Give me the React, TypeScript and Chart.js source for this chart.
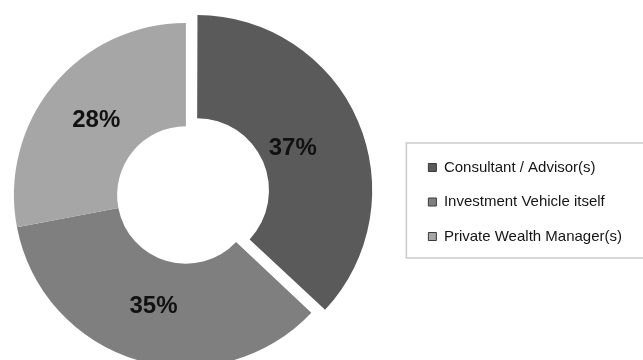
import React, { useEffect, useRef } from "react";
import { Chart, registerables } from "chart.js";

Chart.register(...registerables);

const categories = ["Consultant / Advisor(s)", "Investment Vehicle itself", "Private Wealth Manager(s)"];
const shares = [37, 35, 28];

const FONT = "'Liberation Sans', Arial, Helvetica, sans-serif";

const valueLabels = {
  id: "valueLabels",
  afterDatasetsDraw(chart: any) {
    const ctx = chart.ctx;
    const meta = chart.getDatasetMeta(0);
    ctx.save();
    ctx.font = `bold 24px ${FONT}`;
    ctx.fillStyle = "#111111";
    ctx.textAlign = "center";
    ctx.textBaseline = "middle";
    meta.data.forEach((arc: any, i: number) => {
      const p = arc.getProps(["x", "y", "startAngle", "endAngle", "innerRadius", "outerRadius"], true);
      const mid = (p.startAngle + p.endAngle) / 2;
      const r = (p.innerRadius + p.outerRadius) / 2 - 4;
      ctx.fillText(`${shares[i]}%`, p.x + Math.cos(mid) * r, p.y + Math.sin(mid) * r);
    });
    ctx.restore();
  },
};

const legendFrame = {
  id: "legendFrame",
  afterDraw(chart: any) {
    const lg = chart.legend;
    if (!lg || !lg.legendHitBoxes || !lg.legendHitBoxes.length) return;
    const hb = lg.legendHitBoxes;
    const first = hb[0];
    const last = hb[hb.length - 1];
    const left = first.left - 22;
    const top = first.top - 17;
    const bottom = last.top + last.height + 14;
    const ctx = chart.ctx;
    ctx.save();
    ctx.strokeStyle = "#cbcbcb";
    ctx.lineWidth = 1.5;
    ctx.strokeRect(left, top, chart.width + 10 - left, bottom - top);
    ctx.restore();
  },
};

export default function App() {
  const ref = useRef<HTMLCanvasElement | null>(null);

  useEffect(() => {
    if (!ref.current) return;
    const baseGen = (Chart as any).overrides.doughnut.plugins.legend.labels.generateLabels;
    const chart = new Chart(ref.current, {
      type: "doughnut",
      data: {
        labels: categories,
        datasets: [
          {
            data: shares,
            backgroundColor: ["#5a5a5a", "#7f7f7f", "#a6a6a6"],
            borderWidth: 0,
            offset: [48, 0, 0],
            hoverOffset: 0,
          },
        ],
      },
      options: {
        animation: false,
        responsive: true,
        maintainAspectRatio: false,
        radius: 172,
        cutout: "40%",
        layout: { padding: { left: 0, top: 0, bottom: 0, right: 11 } },
        events: [],
        plugins: {
          tooltip: { enabled: false },
          legend: {
            position: "right",
            title: { display: true, text: "", font: { size: 10, lineHeight: 1 }, padding: 2 },
            labels: {
              boxWidth: 8,
              boxHeight: 8,
              padding: 19.5,
              color: "#151515",
              font: { family: FONT, size: 15 },
              generateLabels: (c: any) =>
                baseGen(c).map((it: any) => ({ ...it, strokeStyle: "#3a3a3a", lineWidth: 1 })),
            },
          },
        },
      } as any,
      plugins: [valueLabels, legendFrame],
    });
    return () => chart.destroy();
  }, []);

  return (
    <div
      style={{
        position: "absolute",
        left: 0,
        top: 0,
        width: 643,
        height: 360,
        overflow: "hidden",
        background: "#ffffff",
      }}
    >
      <div style={{ position: "absolute", left: -37, top: 0, width: 680, height: 390 }}>
        <canvas ref={ref} />
      </div>
    </div>
  );
}
